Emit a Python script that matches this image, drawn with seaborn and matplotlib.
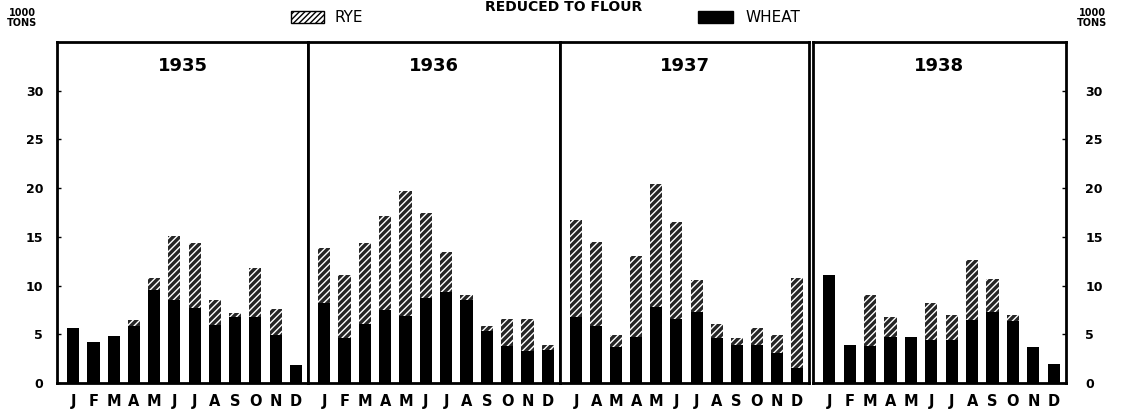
import numpy as np
import pandas as pd
import matplotlib
matplotlib.use("Agg")
import matplotlib.pyplot as plt
import matplotlib.patches as mpatches
import seaborn as sns

sns.set_theme(style="white")
plt.rcParams['font.family'] = ['DejaVu Sans']
plt.rcParams['hatch.linewidth'] = 1.0
plt.rcParams['text.color'] = 'black'
plt.rcParams['xtick.color'] = 'black'
plt.rcParams['ytick.color'] = 'black'
plt.rcParams['xtick.labelcolor'] = 'black'
plt.rcParams['ytick.labelcolor'] = 'black'

years = ["1935", "1936", "1937", "1938"]
month_labels = {
    "1935": ["J", "F", "M", "A", "M", "J", "J", "A", "S", "O", "N", "D"],
    "1936": ["J", "F", "M", "A", "M", "J", "J", "A", "S", "O", "N", "D"],
    "1937": ["J", "A", "M", "A", "M", "J", "J", "A", "S", "O", "N", "D"],
    "1938": ["J", "F", "M", "A", "M", "J", "J", "A", "S", "O", "N", "D"],
}
# totals (wheat + rye), thousand tons
total_1935 = [5.6, 4.2, 4.85, 6.5, 10.8, 15.1, 14.4, 8.5, 7.2, 11.8, 7.6, 1.8]
wheat_1935 = [5.6, 4.2, 4.85, 5.8, 9.5, 8.5, 7.7, 6.0, 6.8, 6.8, 4.9, 1.8]
total_1936 = [13.9, 11.1, 14.4, 17.1, 19.7, 17.5, 13.4, 9.0, 5.8, 6.6, 6.6, 3.85]
wheat_1936 = [8.2, 4.6, 6.1, 7.5, 6.9, 8.7, 9.3, 8.5, 5.3, 3.75, 3.3, 3.4]
total_1937 = [16.7, 14.5, 4.9, 13.0, 20.4, 16.5, 10.6, 6.1, 4.6, 5.6, 4.9, 10.8]
wheat_1937 = [6.8, 5.9, 3.65, 4.7, 7.8, 6.6, 7.3, 4.6, 3.9, 3.9, 3.1, 1.5]
total_1938 = [11.1, 3.9, 9.0, 6.75, 4.75, 8.2, 7.0, 12.6, 10.7, 7.0, 3.7, 1.9]
wheat_1938 = [11.1, 3.9, 3.8, 4.7, 4.75, 4.4, 4.4, 6.5, 7.3, 6.4, 3.7, 1.9]

totals = {"1935": total_1935, "1936": total_1936, "1937": total_1937, "1938": total_1938}
wheats = {"1935": wheat_1935, "1936": wheat_1936, "1937": wheat_1937, "1938": wheat_1938}

W, H = 1128, 412
fig = plt.figure(figsize=(W / 100, H / 100), dpi=100)
fig.patch.set_facecolor("white")

panels_px = [(57, 308), (308, 560), (560, 809), (813, 1066)]
y0_px, y1_px = 383, 42
RYE_FACE = "#262626"

for i, yr in enumerate(years):
    xl, xr = panels_px[i]
    ax = fig.add_axes([xl / W, 1 - y0_px / H, (xr - xl) / W, (y0_px - y1_px) / H])
    df = pd.DataFrame({"pos": [str(k) for k in range(12)],
                       "total": totals[yr], "wheat": wheats[yr]})
    order = [str(k) for k in range(12)]
    sns.barplot(data=df, x="pos", y="total", order=order, ax=ax,
                color=RYE_FACE, width=0.6, saturation=1, errorbar=None,
                linewidth=0, edgecolor="white", hatch="/////")
    sns.barplot(data=df, x="pos", y="wheat", order=order, ax=ax,
                color="black", width=0.6, saturation=1, errorbar=None,
                linewidth=0)
    ax.set_xlim(-0.8, 11.6)
    ax.set_ylim(0, 35)
    ax.set_xlabel("")
    ax.set_ylabel("")
    ax.set_xticks(range(12))
    ax.set_xticklabels(month_labels[yr], fontsize=10.5, fontweight="bold")
    ax.tick_params(axis="x", length=0, pad=8)
    for s in ax.spines.values():
        s.set_visible(True)
        s.set_color("black")
        s.set_linewidth(2)
    ax.set_yticks([0, 5, 10, 15, 20, 25, 30])
    if i == 0:
        ax.set_yticklabels(["0", "5", "10", "15", "20", "25", "30"],
                           fontsize=9, fontweight="bold")
        ax.tick_params(axis="y", left=True, right=False, length=3, width=1,
                       direction="in", pad=10)
    elif i == 3:
        ax.yaxis.tick_right()
        ax.set_yticklabels(["0", "5", "10", "15", "20", "25", "30"],
                           fontsize=9, fontweight="bold")
        ax.tick_params(axis="y", left=False, right=True, length=3, width=1,
                       direction="in", pad=14)
    else:
        ax.tick_params(axis="y", left=False, right=False, labelleft=False)
    ax.text(0.5, 0.93, yr, transform=ax.transAxes, ha="center", va="center",
            fontsize=13, fontweight="bold")

fig.text(0.5, 1 - 7 / H, "REDUCED TO FLOUR", ha="center", va="center",
         fontsize=10, fontweight="bold")
fig.text(22 / W, 1 - 18 / H, "1000\nTONS", ha="center", va="center",
         fontsize=7, fontweight="bold", linespacing=1.0)
fig.text(1092 / W, 1 - 18 / H, "1000\nTONS", ha="center", va="center",
         fontsize=7, fontweight="bold", linespacing=1.0)

# legend patches
rye_patch = mpatches.Rectangle((291 / W, 1 - 23 / H), 33 / W, 12 / H,
                               transform=fig.transFigure, facecolor="white",
                               edgecolor="black", hatch="//////", linewidth=1)
fig.patches.append(rye_patch)
fig.text(334 / W, 1 - 17 / H, "RYE", ha="left", va="center", fontsize=11)
wheat_patch = mpatches.Rectangle((698 / W, 1 - 23 / H), 35 / W, 12 / H,
                                 transform=fig.transFigure, facecolor="black",
                                 edgecolor="black", linewidth=1)
fig.patches.append(wheat_patch)
fig.text(746 / W, 1 - 17 / H, "WHEAT", ha="left", va="center", fontsize=11)

fig.savefig("out.png", dpi=100, facecolor="white")
